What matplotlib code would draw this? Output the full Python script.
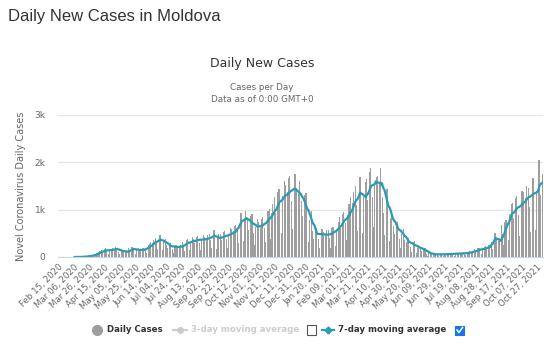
# Daily new COVID-19 cases in Moldova with 7-day moving average
import matplotlib.pyplot as plt
import numpy as np
import pandas as pd
from matplotlib.patches import Rectangle
from matplotlib.lines import Line2D

# -----------------------------------------------------------------------------
# Data, one row per week starting Saturday Feb 15, 2020
# -----------------------------------------------------------------------------
start_date = "2020-02-15"

daily_cases = [
    0, 0, 0, 0, 0, 0, 0,
    0, 0, 0, 0, 0, 0, 0,
    0, 0, 0, 0, 0, 0, 0,
    1, 0, 0, 0, 1, 2, 2,
    3, 4, 2, 6, 6, 7, 6,
    17, 12, 15, 15, 20, 24, 30,
    35, 22, 20, 50, 55, 60, 70,
    90, 70, 45, 110, 120, 130, 115,
    150, 120, 70, 140, 170, 180, 150,
    160, 120, 60, 150, 180, 190, 170,
    180, 140, 80, 170, 210, 200, 200,
    150, 110, 55, 130, 160, 160, 150,
    120, 90, 45, 110, 140, 130, 140,
    180, 140, 80, 170, 210, 210, 200,
    160, 120, 65, 150, 180, 190, 180,
    160, 120, 60, 150, 180, 190, 190,
    220, 170, 90, 210, 250, 260, 270,
    320, 240, 130, 300, 360, 380, 370,
    400, 300, 160, 370, 440, 460, 460,
    340, 260, 140, 320, 380, 400, 390,
    250, 180, 100, 230, 270, 290, 290,
    230, 170, 90, 210, 250, 260, 260,
    240, 180, 90, 220, 260, 270, 280,
    310, 230, 120, 290, 350, 360, 370,
    360, 260, 140, 330, 390, 410, 420,
    390, 290, 150, 360, 430, 450, 450,
    400, 300, 150, 370, 440, 460, 470,
    420, 310, 160, 390, 470, 490, 490,
    490, 360, 180, 450, 540, 560, 570,
    440, 320, 160, 400, 480, 500, 500,
    480, 350, 170, 440, 530, 550, 560,
    520, 380, 190, 480, 580, 600, 610,
    590, 430, 220, 540, 650, 680, 670,
    820, 600, 300, 750, 900, 940, 940,
    900, 660, 330, 820, 980, 1020, 1030,
    790, 580, 290, 720, 860, 900, 900,
    700, 510, 260, 640, 770, 800, 800,
    740, 540, 270, 670, 800, 840, 830,
    860, 620, 310, 780, 940, 980, 970,
    1020, 740, 370, 930, 1120, 1160, 1160,
    1260, 920, 460, 1150, 1380, 1440, 1440,
    1400, 1020, 510, 1280, 1540, 1600, 1610,
    1520, 1100, 550, 1380, 1660, 1720, 1730,
    1620, 1180, 590, 1470, 1740, 1760, 1750,
    1460, 1060, 530, 1330, 1600, 1660, 1670,
    1190, 860, 430, 1080, 1300, 1350, 1350,
    860, 620, 310, 780, 940, 980, 970,
    540, 390, 200, 490, 590, 610, 610,
    530, 380, 190, 480, 580, 600, 600,
    520, 380, 190, 470, 560, 590, 580,
    560, 410, 200, 510, 610, 640, 640,
    660, 480, 240, 600, 720, 750, 750,
    840, 610, 300, 760, 910, 950, 950,
    980, 710, 360, 890, 1070, 1110, 1110,
    1270, 920, 460, 1150, 1380, 1440, 1430,
    1500, 1090, 540, 1360, 1630, 1700, 1700,
    1390, 1010, 500, 1260, 1510, 1580, 1580,
    1650, 1200, 600, 1500, 1800, 1880, 1870,
    1730, 1260, 630, 1570, 1880, 2250, 1700,
    1720, 1250, 620, 1560, 1870, 1950, 1950,
    1270, 920, 460, 1150, 1380, 1440, 1430,
    900, 660, 330, 820, 980, 1030, 1020,
    660, 480, 240, 600, 720, 750, 750,
    530, 380, 190, 480, 580, 600, 600,
    350, 260, 130, 320, 380, 400, 400,
    290, 210, 100, 260, 310, 320, 330,
    220, 160, 80, 200, 240, 250, 250,
    165, 120, 60, 150, 180, 190, 185,
    90, 65, 30, 80, 95, 100, 100,
    60, 45, 22, 55, 65, 70, 68,
    60, 44, 22, 55, 66, 68, 70,
    66, 48, 24, 60, 72, 75, 75,
    72, 52, 26, 65, 78, 81, 81,
    77, 56, 28, 70, 84, 88, 87,
    83, 60, 30, 75, 90, 94, 93,
    94, 68, 34, 85, 102, 106, 106,
    121, 88, 44, 110, 132, 138, 137,
    165, 120, 60, 150, 180, 188, 187,
    193, 140, 70, 175, 210, 219, 218,
    231, 168, 84, 210, 252, 263, 262,
    440, 320, 160, 400, 480, 500, 500,
    374, 272, 136, 340, 408, 425, 425,
    682, 496, 248, 620, 744, 775, 775,
    990, 720, 360, 900, 1080, 1125, 1125,
    1133, 824, 412, 1030, 1236, 1288, 1287,
    1232, 896, 448, 1120, 1344, 1400, 1400,
    1375, 1000, 500, 1250, 1500, 1560, 1565,
    1463, 1064, 532, 1330, 1596, 1660, 1665,
    1540, 1120, 560, 1400, 1680, 1750, 2050,
    2040, 1300, 600, 1500, 1750,
]

y_ticks = [0, 1000, 2000, 3000]
y_tick_labels = ["0", "1k", "2k", "3k"]

# -----------------------------------------------------------------------------
# Derived series
# -----------------------------------------------------------------------------
cases = pd.Series(daily_cases, dtype=float)
dates = pd.date_range(start_date, periods=len(cases), freq="D")
avg7 = cases.rolling(7, min_periods=1).mean()
# the average line only starts once the first case is reported
avg7 = avg7.where(cases.cumsum() > 0)
x = np.arange(len(cases))

# -----------------------------------------------------------------------------
# Plot
# -----------------------------------------------------------------------------
W, H = 560, 350
fig = plt.figure(figsize=(W / 100, H / 100), dpi=100)
ax = fig.add_axes([58 / W, (H - 257) / H, (543 - 58) / W, (257 - 115) / H])

bar_color = "#9e9e9e"
line_color = "#2a9bb6"
text_gray = "#666666"

ax.bar(x, cases, width=0.72, color=bar_color, linewidth=0)
ax.plot(x, avg7, color=line_color, linewidth=1.6)

ax.set_xlim(-0.5, len(cases) - 0.5)
ax.set_ylim(0, 3000)
ax.set_yticks(y_ticks)
ax.set_yticklabels(y_tick_labels)
ax.grid(axis="y", color="#e6e6e6", linewidth=1)
ax.set_axisbelow(True)

tick_idx = x[::20]
ax.set_xticks(tick_idx)
ax.set_xticklabels(
    [dates[i].strftime("%b %d, %Y") for i in tick_idx],
    rotation=45,
    ha="right",
    rotation_mode="anchor",
)

for side in ["top", "right", "left"]:
    ax.spines[side].set_visible(False)
ax.spines["bottom"].set_color("#ccd6eb")
ax.tick_params(axis="x", length=0, labelsize=6.2, labelcolor=text_gray, pad=4)
ax.tick_params(axis="y", length=0, labelsize=6.5, labelcolor=text_gray, pad=9)

ax.set_ylabel("Novel Coronavirus Daily Cases", fontsize=7, color=text_gray, labelpad=6)

# Titles
fig.text(8 / W, 1 - 17 / H, "Daily New Cases in Moldova", fontsize=12,
         family="Liberation Sans", color="#333333", va="center", ha="left")
fig.text(262 / W, 1 - 64 / H, "Daily New Cases", fontsize=9, color="#333333",
         va="center", ha="center")
fig.text(262 / W, 1 - 87 / H, "Cases per Day", fontsize=6.3, color=text_gray,
         va="center", ha="center")
fig.text(262 / W, 1 - 99 / H, "Data as of 0:00 GMT+0", fontsize=6.3, color=text_gray,
         va="center", ha="center")

# Legend (drawn by hand to mimic the original layout)
ly = 1 - 330 / H
tf = fig.transFigure
fig.add_artist(Line2D([97 / W], [ly], marker="o", markersize=7, color=bar_color,
                      linestyle="none", transform=tf))
fig.text(107 / W, ly, "Daily Cases", fontsize=6.2, fontweight="bold", color="#333333",
         va="center", ha="left")
fig.add_artist(Line2D([173 / W, 187 / W], [ly, ly], color="#cccccc", linewidth=1.5,
                      transform=tf))
fig.add_artist(Line2D([180 / W], [ly], marker="o", markersize=4, color="#cccccc",
                      linestyle="none", transform=tf))
fig.text(191 / W, ly, "3-day moving average", fontsize=6.2, fontweight="bold",
         color="#cccccc", va="center", ha="left")
fig.add_artist(Rectangle((307 / W, ly - 5 / H), 9 / W, 10 / H, facecolor="white",
                         edgecolor="#555555", linewidth=0.8, transform=tf))
fig.add_artist(Line2D([322 / W, 334 / W], [ly, ly], color=line_color, linewidth=1.6,
                      transform=tf))
fig.add_artist(Line2D([328 / W], [ly], marker="D", markersize=3.5, color=line_color,
                      linestyle="none", transform=tf))
fig.text(338 / W, ly, "7-day moving average", fontsize=6.2, fontweight="bold",
         color="#333333", va="center", ha="left")
fig.add_artist(Rectangle((455 / W, ly - 4.5 / H), 9 / W, 9 / H, facecolor="#1a73e8",
                         edgecolor="#1a73e8", linewidth=0.8, transform=tf))
fig.add_artist(Line2D([457 / W, 459 / W, 462.5 / W],
                      [ly, ly - 2.5 / H, ly + 2.5 / H],
                      color="white", linewidth=1.1, transform=tf))

fig.savefig("out.png", dpi=100)
